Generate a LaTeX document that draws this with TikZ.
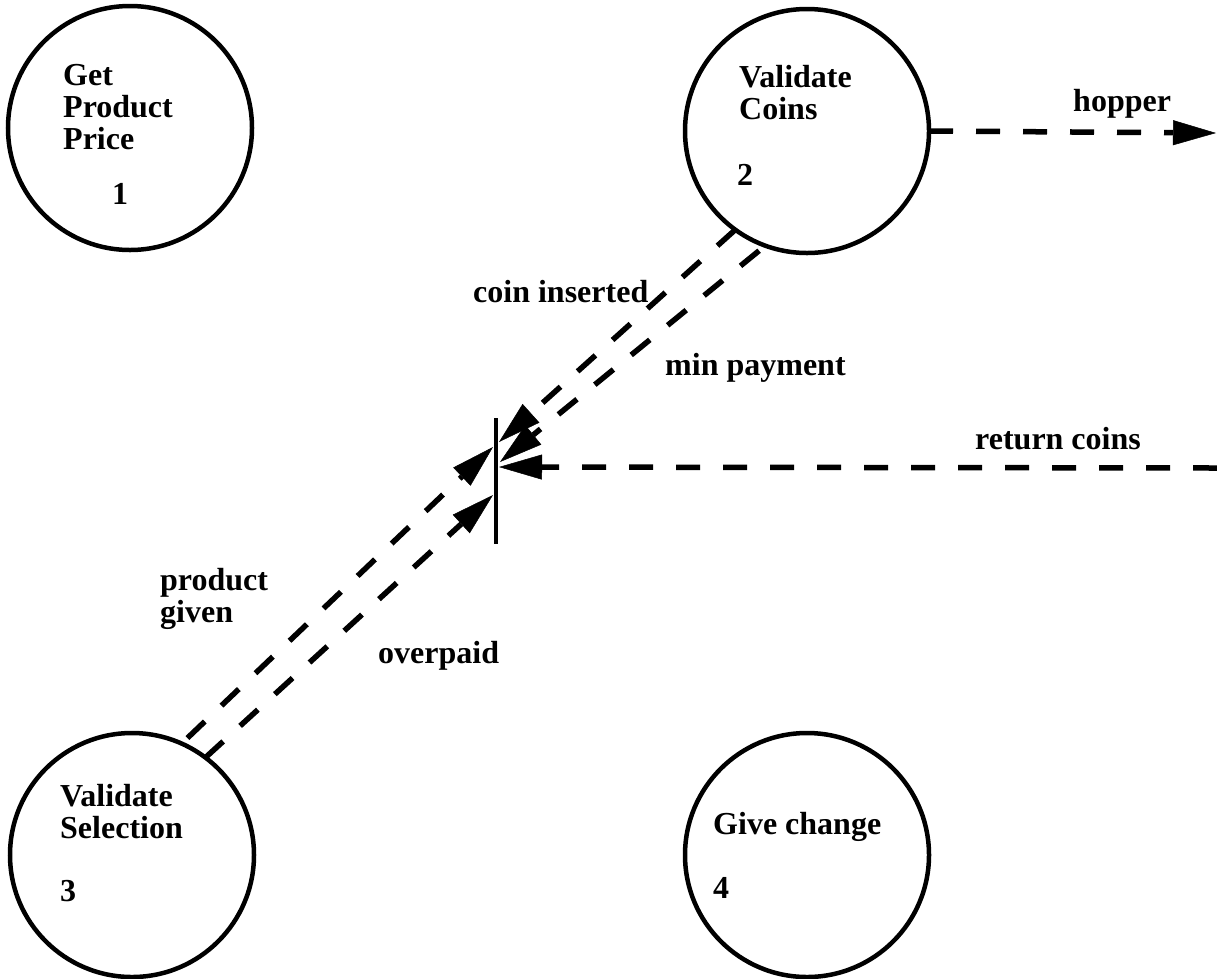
\documentclass[tikz,border=0pt]{standalone}
\usepackage{fontspec}
\setmainfont{Liberation Serif}
\usetikzlibrary{arrows.meta}
\begin{document}
\begin{tikzpicture}[x=1pt,y=-1pt,
  process/.style={circle,draw,line width=4.5pt,minimum size=244pt,inner sep=0pt,outer sep=0pt},
  lbl/.style={font=\bfseries\fontsize{32}{32}\selectfont,inner sep=0pt,anchor=base west,align=left},
  flow/.style={line width=5.5pt,dash pattern=on 24pt off 23pt,
    -{Triangle[length=43pt,width=25pt,line width=0.5pt]}},
  bar/.style={line width=4.5pt}]
\useasboundingbox (0,0) rectangle (1217,978);

% processes
\node[process] (p1) at (130,128) {};
\node[process] (p2) at (807,131) {};
\node[process] (p3) at (132,855) {};
\node[process] (p4) at (807,855) {};

% process captions (base anchor sits on the last line)
\node[lbl] (t1) at (63,149) {Get\\Product\\Price};
\node[lbl] (n1) at (112,204) {1};
\node[lbl] (t2) at (739,119) {Validate\\Coins};
\node[lbl] (n2) at (737,185) {2};
\node[lbl] (t3) at (60,838) {Validate\\Selection};
\node[lbl] (n3) at (60,901) {3};
\node[lbl] (t4) at (713,834) {Give change};
\node[lbl] (n4) at (713,898) {4};

% junction bar and the points where flows meet it
\coordinate (barTop) at (496,418);
\coordinate (barBot) at (496,544);
\draw[bar] (barTop) -- (barBot);
\coordinate (jc) at (499,442);
\coordinate (jm) at (500,462);
\coordinate (jr) at (499,467);
\coordinate (jp) at (493,447);
\coordinate (jo) at (493,495);
\coordinate (hopEnd) at (1216,133);
\coordinate (retStart) at (1217,468);

% flows
\draw[flow] (p2.east) -- (hopEnd);
\draw[flow] (p2.234) -- (jc);
\draw[flow,shorten <=8pt] (p2.250) -- (jm);
\draw[flow] (retStart) -- (jr);
\draw[flow,shorten <=8pt] (p3.66) -- (jp);
\draw[flow] (p3.53) -- (jo);

% flow labels
\node[lbl] (lhop) at (1073,111) {hopper};
\node[lbl] (lcoin) at (473,302) {coin inserted};
\node[lbl] (lmin) at (665,375) {min payment};
\node[lbl] (lret) at (975,449) {return coins};
\node[lbl] (lprod) at (160,622) {product\\given};
\node[lbl] (lover) at (378,663) {overpaid};
\end{tikzpicture}
\end{document}
